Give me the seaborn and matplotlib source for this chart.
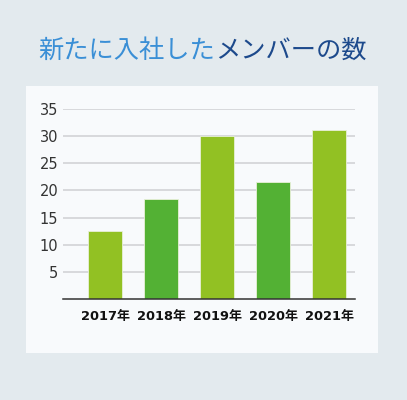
import pandas as pd
import seaborn as sns
import matplotlib.pyplot as plt
from matplotlib.patches import Rectangle

# ------------------------------
# Data
# ------------------------------
years = ["2017年", "2018年", "2019年", "2020年", "2021年"]
members = [12.6, 18.5, 29.9, 21.5, 31.1]
bar_colors = ["#92c123", "#53b134", "#92c123", "#53b134", "#92c123"]
y_ticks = [5, 10, 15, 20, 25, 30, 35]

title_blue = "新たに入社した"
title_navy = "メンバーの数"

BG = "#e3eaee"
PANEL = "#f8fafc"

sns.set_theme(style="white")
plt.rcParams["font.family"] = ["DejaVu Sans", "Noto Sans CJK JP"]

df = pd.DataFrame({"year": years, "members": members})

fig = plt.figure(figsize=(4.07, 4.0), dpi=100, facecolor=BG)

# white card behind the chart
fig.patches.append(Rectangle(
    (26 / 407, 1 - 352.5 / 400), (378 - 26) / 407, (352.5 - 86) / 400,
    transform=fig.transFigure, facecolor=PANEL, edgecolor="none", zorder=-1
))

ax = fig.add_axes([63 / 407, 1 - 299.3 / 400, (355 - 63) / 407, (299.3 - 108.7) / 400])
ax.set_facecolor("none")
ax.set_zorder(2)

sns.barplot(
    data=df, x="year", y="members", hue="year",
    palette=bar_colors, saturation=1, width=0.607, legend=False,
    edgecolor="#e8f0d8", linewidth=0.6, ax=ax, zorder=3
)

ax.set_ylim(0, 35)
ax.set_xlim(-0.755, 4.464)
ax.set_yticks(y_ticks)
ax.yaxis.grid(True, color="#cfcfd3", linewidth=1.1, zorder=0)
ax.set_axisbelow(True)

for side in ["top", "right", "left"]:
    ax.spines[side].set_visible(False)
ax.spines["bottom"].set_color("#333333")
ax.spines["bottom"].set_linewidth(1.1)
ax.spines["bottom"].set_zorder(4)

ax.set_xlabel("")
ax.set_ylabel("")
ax.tick_params(axis="y", length=0, pad=3.5, labelsize=10.5, labelcolor="#333333")
ax.tick_params(axis="x", length=0, pad=8, labelsize=9.4, labelcolor="#111111")
for lbl in ax.get_xticklabels():
    lbl.set_fontweight("bold")

# two-colour title
t1 = fig.text(38 / 407, 1 - 51 / 400, title_blue, fontsize=18.2,
              color="#3a8fd6", ha="left", va="center",
              family=["Noto Sans CJK JP", "DejaVu Sans"])
fig.canvas.draw()
ax.annotate(title_navy, xy=(1, 0), xycoords=t1, ha="left", va="bottom",
            fontsize=18.2, color="#1d4a8c",
            family=["Noto Sans CJK JP", "DejaVu Sans"], annotation_clip=False)

fig.savefig("out.png", dpi=100, facecolor=BG)
